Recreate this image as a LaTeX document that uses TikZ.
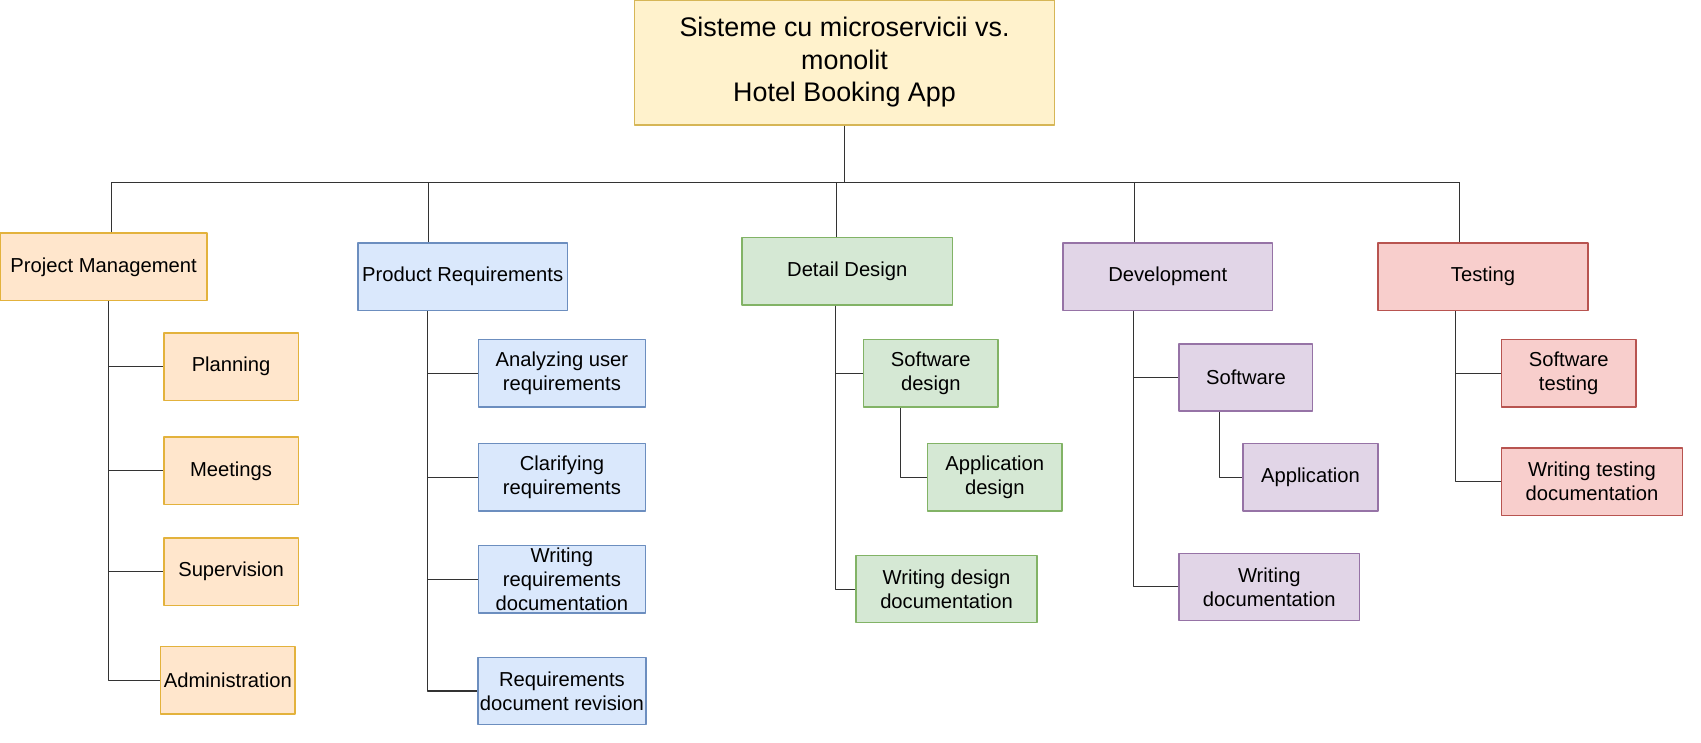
\documentclass[tikz,border=0pt]{standalone}
\usepackage{fontspec}
\setmainfont{Liberation Sans}
\usetikzlibrary{calc}
\definecolor{rootfill}{HTML}{FFF2CC} \definecolor{rootdraw}{HTML}{D6B656}
\definecolor{orfill}{HTML}{FFE6CC}   \definecolor{ordraw}{HTML}{E3B23C}
\definecolor{blfill}{HTML}{DAE8FC}   \definecolor{bldraw}{HTML}{6C8EBF}
\definecolor{grfill}{HTML}{D5E8D4}   \definecolor{grdraw}{HTML}{82B366}
\definecolor{pufill}{HTML}{E1D5E7}   \definecolor{pudraw}{HTML}{9673A6}
\definecolor{refill}{HTML}{F8CECC}   \definecolor{redraw}{HTML}{B85450}
\definecolor{linegray}{HTML}{333333}
\begin{document}
\begin{tikzpicture}[x=0.02cm, y=-0.02cm, line join=round,
	font=\fontsize{10.6}{12.5}\selectfont,
	box/.style={draw, line width=0.8pt, inner sep=1pt, align=center, minimum height=1.24cm},
	rootbox/.style={box, fill=rootfill, draw=rootdraw, font=\fontsize{14.1}{17.1}\selectfont},
	orbox/.style={box, fill=orfill, draw=ordraw},
	blbox/.style={box, fill=blfill, draw=bldraw},
	grbox/.style={box, fill=grfill, draw=grdraw},
	pubox/.style={box, fill=pufill, draw=pudraw},
	rebox/.style={box, fill=refill, draw=redraw},
	link/.style={draw=linegray, line width=0.6pt}]
	\def\u{0.02cm} % one pixel
	\useasboundingbox (0,0) rectangle (1568,684);
	% root
	\node[rootbox, minimum width=387*\u, minimum height=115*\u] (root) at (778.5,57.5) {Sisteme cu microservicii vs.\\monolit\\Hotel Booking App};
	% first level
	\node[orbox, minimum width=191*\u] (pm) at (95.5,246) {Project Management};
	\node[blbox, minimum width=193*\u] (pr) at (426.5,255) {Product Requirements};
	\node[grbox, minimum width=194*\u] (dd) at (781,250) {Detail Design};
	\node[pubox, minimum width=193*\u] (dev) at (1076.5,255) {Development};
	\node[rebox, minimum width=194*\u] (test) at (1367,255) {Testing};
	% project management
	\node[orbox, minimum width=124*\u] (plan) at (213,338) {Planning};
	\node[orbox, minimum width=124*\u] (meet) at (213,434) {Meetings};
	\node[orbox, minimum width=124*\u] (superv) at (213,527) {Supervision};
	\node[orbox, minimum width=124*\u] (admin) at (210,627) {Administration};
	% product requirements
	\node[blbox, minimum width=154*\u] (anal) at (518,344) {Analyzing user\\requirements};
	\node[blbox, minimum width=154*\u] (clar) at (518,440) {Clarifying\\requirements};
	\node[blbox, minimum width=154*\u] (wreq) at (518,534) {Writing\\requirements\\documentation};
	\node[blbox, minimum width=154*\u] (rrev) at (518,637) {Requirements\\document revision};
	% detail design
	\node[grbox, minimum width=124*\u] (swd) at (858,344) {Software\\design};
	\node[grbox, minimum width=124*\u] (appd) at (917,440) {Application\\design};
	\node[grbox, minimum width=167*\u] (wdd) at (872.5,543) {Writing design\\documentation};
	% development
	\node[pubox, minimum width=123*\u] (sw) at (1148.5,348) {Software};
	\node[pubox, minimum width=124*\u] (app) at (1208,440) {Application};
	\node[pubox, minimum width=166*\u] (wdoc) at (1170,541) {Writing\\documentation};
	% testing
	\node[rebox, minimum width=124*\u] (swt) at (1446,344) {Software\\testing};
	\node[rebox, minimum width=167*\u] (wtd) at (1467.5,444) {Writing testing\\documentation};
	% bus
	\coordinate (bus) at (0,168);
	\coordinate (pmtop) at ($(pm.north)+(7.5,0)$);
	\coordinate (prtop) at ($(pr.north)+(-31.5,0)$);
	\coordinate (ddtop) at ($(dd.north)+(-10,0)$);
	\coordinate (devtop) at ($(dev.north)+(-30.5,0)$);
	\coordinate (testtop) at ($(test.north)+(-22,0)$);
	\draw[link] (root.south) -- (root.south |- bus);
	\foreach \n in {pmtop,prtop,ddtop,devtop,testtop} \draw[link] (\n) -- (\n |- bus);
	\draw[link] (pmtop |- bus) -- (testtop |- bus);
	% branches
	\coordinate (pmbot) at ($(pm.south)+(4.5,0)$);
	\foreach \c in {plan,meet,superv,admin} \draw[link] (pmbot) |- (\c.west);
	\coordinate (prbot) at ($(pr.south)+(-32.5,0)$);
	\foreach \c in {anal,clar,wreq,rrev} \draw[link] (prbot) |- (\c.west);
	\coordinate (ddbot) at ($(dd.south)+(-11,0)$);
	\foreach \c in {swd,wdd} \draw[link] (ddbot) |- (\c.west);
	\draw[link] ($(swd.south)+(-28,0)$) |- (appd.west);
	\coordinate (devbot) at ($(dev.south)+(-31.5,0)$);
	\foreach \c in {sw,wdoc} \draw[link] (devbot) |- (\c.west);
	\draw[link] ($(sw.south)+(-24.5,0)$) |- (app.west);
	\coordinate (testbot) at ($(test.south)+(-25,0)$);
	\foreach \c in {swt,wtd} \draw[link] (testbot) |- (\c.west);
\end{tikzpicture}
\end{document}
